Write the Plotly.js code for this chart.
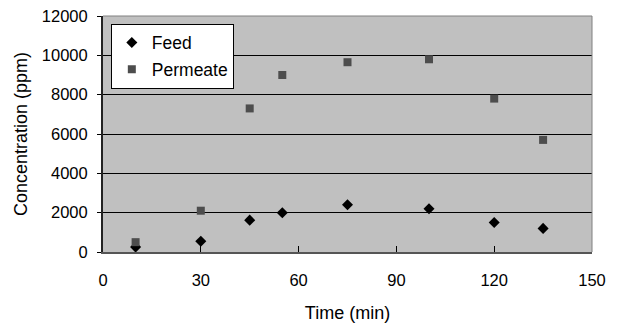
<!DOCTYPE html>
<html><head><meta charset="utf-8">
<script src="https://cdn.plot.ly/plotly-3.0.1.min.js"></script>
<style>html,body{margin:0;padding:0;background:#fff}#c{width:617px;height:326px}</style>
</head><body><div id="c"></div>
<script>
const time = [10, 30, 45, 55, 75, 100, 120, 135];
const feed = [250, 550, 1620, 2000, 2400, 2200, 1500, 1200];
const permeate = [500, 2100, 7300, 9000, 9650, 9800, 7800, 5700];
const xTicks = [0, 30, 60, 90, 120, 150];
const yTicks = [0, 2000, 4000, 6000, 8000, 10000, 12000];

const traces = [
  {x: time, y: feed, name: 'Feed', type: 'scatter', mode: 'markers', legendgroup: 'a',
   marker: {symbol: 'diamond', size: 8.5, color: '#000000'}},
  {x: time, y: permeate, name: 'Permeate', type: 'scatter', mode: 'markers', legendgroup: 'b',
   marker: {symbol: 'square', size: 8, color: '#4d4d4d'}}
];
const layout = {
  width: 617, height: 326,
  margin: {l: 103, r: 25, t: 16, b: 74},
  paper_bgcolor: '#ffffff', plot_bgcolor: '#c0c0c0',
  font: {family: 'Liberation Sans, Arial, sans-serif', size: 16.5, color: '#000'},
  showlegend: true,
  legend: {x: 0.016, y: 0.968, xanchor: 'left', yanchor: 'top', bgcolor: '#ffffff',
    bordercolor: '#000', borderwidth: 1, font: {size: 17.5}, itemwidth: 30,
    traceorder: 'grouped', tracegroupgap: 1},
  xaxis: {range: [0, 150], tickvals: xTicks, ticktext: xTicks.map(String),
    ticks: 'inside', ticklen: 6, tickcolor: '#000', showgrid: false, zeroline: false,
    showline: true, linecolor: '#555', linewidth: 2, mirror: false,
    ticklabelstandoff: 12,
    title: {text: 'Time (min)', standoff: 19, font: {size: 18}},
    tickfont: {size: 16.5}},
  yaxis: {range: [0, 12000], tickvals: yTicks, ticktext: yTicks.map(String),
    ticks: 'outside', ticklen: 4, tickcolor: '#000', showgrid: true, gridcolor: '#000', gridwidth: 1,
    zeroline: false, showline: true, linecolor: '#222', linewidth: 2,
    ticklabelstandoff: 6,
    title: {text: 'Concentration (ppm)', standoff: 10, font: {size: 18}},
    tickfont: {size: 16.5}},
  shapes: [
    {type: 'line', xref: 'paper', yref: 'paper', x0: 0, x1: 1, y0: 1, y1: 1, line: {color: '#808080', width: 1}},
    {type: 'line', xref: 'paper', yref: 'paper', x0: 1, x1: 1, y0: 0, y1: 1, line: {color: '#808080', width: 1}}
  ]
};
Plotly.newPlot('c', traces, layout, {displayModeBar: false, staticPlot: true});
</script></body></html>
